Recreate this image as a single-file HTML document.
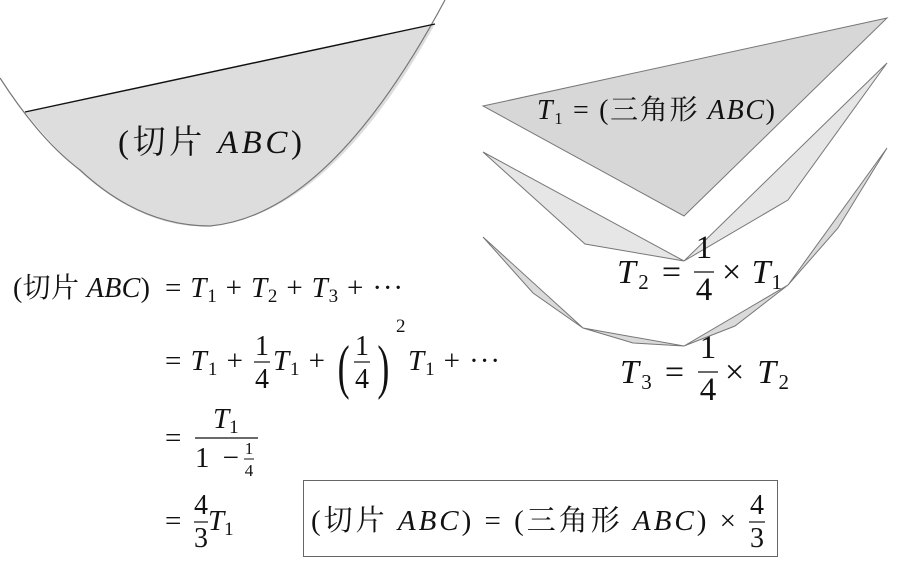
<!DOCTYPE html>
<html><head><meta charset="utf-8"><style>
html,body{margin:0;padding:0;background:#fff;}
svg{display:block;}
text{font-family:"Liberation Serif","Noto Serif CJK SC","Noto Sans CJK SC",serif;fill:#111;}
.i{font-style:italic;}
</style></head><body>
<svg width="900" height="562" viewBox="0 0 900 562" xmlns="http://www.w3.org/2000/svg">
<path d="M25,112 Q120,232 210,226 Q330,215 435,24 Z" fill="#dcdddc" stroke="none"/>
<path d="M0,78 Q40,140 80,170 Q140,226 210,226 Q330,215 445,0" fill="none" stroke="#777" stroke-width="1.2"/>
<line x1="25" y1="112" x2="435" y2="24" stroke="#111" stroke-width="1.4"/>
<text x="118" y="153" font-size="33" textLength="184" lengthAdjust="spacing">(切片 <tspan class="i">ABC</tspan>)</text>

<polygon points="483,106 887,18 684,216" fill="#d6d7d6" stroke="#777" stroke-width="1"/>
<text x="537" y="119" font-size="28" textLength="238" lengthAdjust="spacing"><tspan class="i">T</tspan><tspan font-size="17" dy="5">1</tspan><tspan dy="-5"> = (三角形 </tspan><tspan class="i">ABC</tspan>)</text>

<polygon points="483,152 585,244 684,261" fill="#e6e6e6" stroke="#777" stroke-width="1"/>
<polygon points="684,261 788,200 887,63" fill="#e6e6e6" stroke="#777" stroke-width="1"/>
<text x="617" y="283" font-size="34" textLength="64" lengthAdjust="spacing"><tspan class="i">T</tspan><tspan font-size="21" dy="6">2</tspan><tspan dy="-6"> =</tspan></text>
<text x="704" y="258" font-size="33" text-anchor="middle">1</text>
<line x1="694" y1="272" x2="714" y2="272" stroke="#111" stroke-width="1.3"/>
<text x="704" y="300" font-size="33" text-anchor="middle">4</text>
<text x="722" y="283" font-size="34" textLength="60" lengthAdjust="spacing">× <tspan class="i">T</tspan><tspan font-size="21" dy="6">1</tspan></text>

<polygon points="483,237 533,293 583,328 633,343 684,346 735,326 788,285 838,228 887,148 788,285 684,346 583,328" fill="#dadada" stroke="#777" stroke-width="1"/>
<text x="620" y="383" font-size="34" textLength="64" lengthAdjust="spacing"><tspan class="i">T</tspan><tspan font-size="21" dy="6">3</tspan><tspan dy="-6"> =</tspan></text>
<text x="708" y="358" font-size="33" text-anchor="middle">1</text>
<line x1="698" y1="372" x2="718" y2="372" stroke="#111" stroke-width="1.3"/>
<text x="708" y="400" font-size="33" text-anchor="middle">4</text>
<text x="725" y="383" font-size="34" textLength="64" lengthAdjust="spacing">× <tspan class="i">T</tspan><tspan font-size="21" dy="6">2</tspan></text>

<text x="13" y="297" font-size="28" textLength="137" lengthAdjust="spacing">(切片 <tspan class="i">ABC</tspan>)</text>
<text x="165" y="297" font-size="29" textLength="238" lengthAdjust="spacing">= <tspan class="i">T</tspan><tspan font-size="19" dy="5">1</tspan><tspan dy="-5"> + </tspan><tspan class="i">T</tspan><tspan font-size="19" dy="5">2</tspan><tspan dy="-5"> + </tspan><tspan class="i">T</tspan><tspan font-size="19" dy="5">3</tspan><tspan dy="-5"> + ···</tspan></text>

<text x="165" y="370" font-size="29" textLength="78" lengthAdjust="spacing">= <tspan class="i">T</tspan><tspan font-size="19" dy="5">1</tspan><tspan dy="-5"> +</tspan></text>
<text x="262" y="355" font-size="28" text-anchor="middle">1</text>
<line x1="254" y1="362" x2="270" y2="362" stroke="#111" stroke-width="1.2"/>
<text x="262" y="388" font-size="28" text-anchor="middle">4</text>
<text x="273" y="370" font-size="29" textLength="52" lengthAdjust="spacing"><tspan class="i">T</tspan><tspan font-size="19" dy="5">1</tspan><tspan dy="-5"> +</tspan></text>
<text x="336" y="387" font-size="60" transform="scale(0.6,1)" transform-origin="340 370">(</text>
<text x="362" y="355" font-size="28" text-anchor="middle">1</text>
<line x1="354" y1="362" x2="370" y2="362" stroke="#111" stroke-width="1.2"/>
<text x="362" y="388" font-size="28" text-anchor="middle">4</text>
<text x="375" y="387" font-size="60" transform="scale(0.6,1)" transform-origin="381 370">)</text>
<text x="396" y="332" font-size="19">2</text>
<text x="408" y="370" font-size="29" textLength="92" lengthAdjust="spacing"><tspan class="i">T</tspan><tspan font-size="19" dy="5">1</tspan><tspan dy="-5"> + ···</tspan></text>

<text x="165" y="447" font-size="29">=</text>
<text x="213" y="428" font-size="29" class="i">T<tspan font-size="19" dy="5" font-style="normal">1</tspan></text>
<line x1="195" y1="438" x2="258" y2="438" stroke="#111" stroke-width="1.2"/>
<text x="195" y="467" font-size="29" textLength="44" lengthAdjust="spacing">1 −</text>
<text x="249" y="454" font-size="17" text-anchor="middle">1</text>
<line x1="244" y1="459" x2="254" y2="459" stroke="#111" stroke-width="1"/>
<text x="249" y="476" font-size="17" text-anchor="middle">4</text>

<text x="165" y="530" font-size="29">=</text>
<text x="201" y="514" font-size="28" text-anchor="middle">4</text>
<line x1="194" y1="522" x2="208" y2="522" stroke="#111" stroke-width="1.2"/>
<text x="201" y="547" font-size="28" text-anchor="middle">3</text>
<text x="208" y="530" font-size="29" class="i">T<tspan font-size="19" dy="5" font-style="normal">1</tspan></text>

<rect x="303.5" y="480.5" width="474" height="76" fill="none" stroke="#666" stroke-width="1"/>
<text x="311" y="530" font-size="29" textLength="425" lengthAdjust="spacing">(切片 <tspan class="i">ABC</tspan>) = (三角形 <tspan class="i">ABC</tspan>) ×</text>
<text x="757" y="514" font-size="28" text-anchor="middle">4</text>
<line x1="749" y1="522" x2="765" y2="522" stroke="#111" stroke-width="1.2"/>
<text x="757" y="547" font-size="28" text-anchor="middle">3</text>
</svg>
</body></html>
